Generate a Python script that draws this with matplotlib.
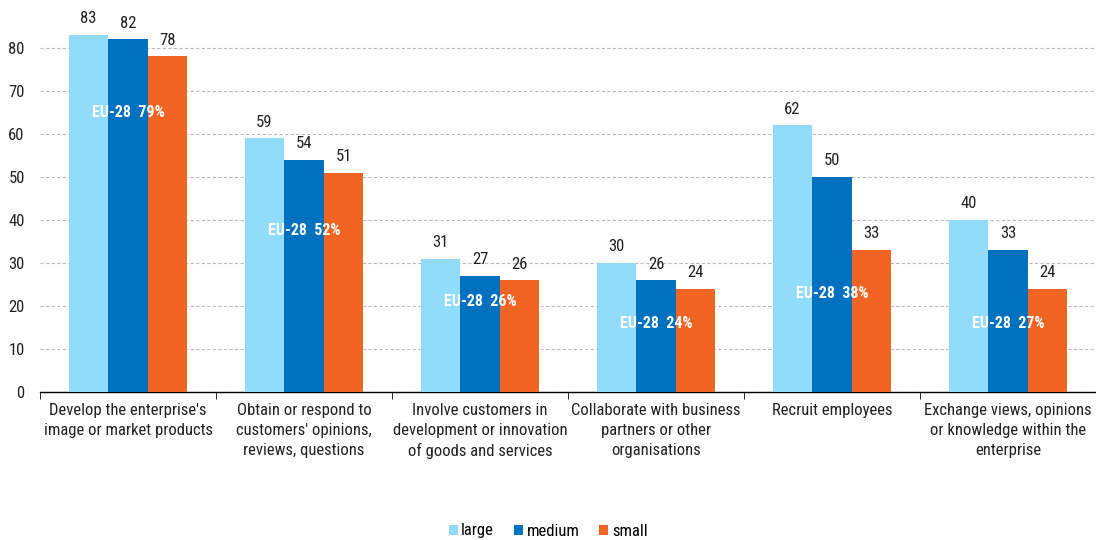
import matplotlib
matplotlib.use("Agg")
import matplotlib.pyplot as plt
import numpy as np
from matplotlib import font_manager

names = {f.name for f in font_manager.fontManager.ttflist}
fam = "Liberation Sans"
for cand in ["Liberation Sans Narrow", "Arial Narrow", "Roboto Condensed", "Open Sans Condensed"]:
    if cand in names:
        fam = cand
        break
plt.rcParams['font.family'] = [fam, 'DejaVu Sans']

categories = [
    "Develop the enterprise's\nimage or market products",
    "Obtain or respond to\ncustomers' opinions,\nreviews, questions",
    "Involve customers in\ndevelopment or innovation\nof goods and services",
    "Collaborate with business\npartners or other\norganisations",
    "Recruit employees",
    "Exchange views, opinions\nor knowledge within the\nenterprise",
]
large = [83, 59, 31, 30, 62, 40]
medium = [82, 54, 27, 26, 50, 33]
small = [78, 51, 26, 24, 33, 24]
eu28 = [79, 52, 26, 24, 38, 27]
series_names = ["large", "medium", "small"]
colors = ["#91dcfb", "#0071bf", "#f06423"]

# vertical placement of the EU-28 annotations (layout only)
eu_label_y = [65, 37.5, 21, 16, 23, 16]

fig = plt.figure(figsize=(10.96, 5.40), dpi=100)
ax = fig.add_axes([0.0365, 0.274, 0.9635, 0.717])

n = len(categories)
x = np.arange(n)
w = 0.225
for i, (vals, c) in enumerate(zip([large, medium, small], colors)):
    pos = x + (i - 1) * w
    ax.bar(pos, vals, width=w, color=c, label=series_names[i], zorder=3)
    for p, v in zip(pos, vals):
        ax.text(p, v + 2.0, f"{v}", ha="center", va="bottom", fontsize=12, color="#222222")

for xi, e, ly in zip(x, eu28, eu_label_y):
    ax.text(xi, ly, f"EU-28  {e}%", ha="center", va="center", fontsize=11.5,
            fontweight="bold", color="white", zorder=4)

ax.set_xlim(-0.5, n - 0.5)
ax.set_ylim(0, 90)
ax.set_yticks(range(0, 81, 10))
ax.yaxis.grid(True, linestyle=(0, (3, 2)), color="#bbbbbb", linewidth=0.8, zorder=0)
ax.tick_params(axis="y", length=0, labelsize=12, pad=11, labelcolor="#222222")

ax.set_xticks(x)
ax.set_xticklabels(categories, fontsize=12, color="#222222", linespacing=1.4)
ax.set_xticks(np.arange(-0.5, n, 1.0), minor=True)
ax.tick_params(axis="x", which="major", length=0, pad=8)
ax.tick_params(axis="x", which="minor", length=5, direction="out", color="black")

for s in ["top", "right", "left"]:
    ax.spines[s].set_visible(False)
ax.spines["bottom"].set_color("black")
ax.spines["bottom"].set_linewidth(1.0)

fig.legend(loc="lower center", bbox_to_anchor=(0.5, -0.025), ncol=3, frameon=False,
           fontsize=12, handlelength=0.55, handleheight=0.55, handletextpad=0.2,
           columnspacing=1.2)

fig.savefig("out.png", dpi=100)
